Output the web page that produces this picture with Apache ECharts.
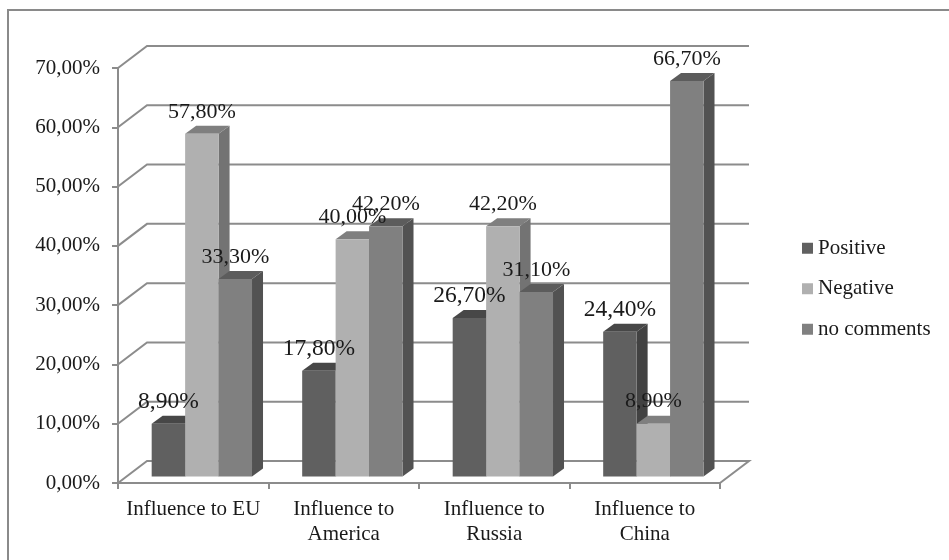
<!DOCTYPE html>
<html>
<head>
<meta charset="utf-8">
<style>
  html, body { margin: 0; padding: 0; background: #fff; overflow: hidden; }
  #chart { position: absolute; left: 0; top: 0; width: 949px; height: 560px; }
  #frame { position: absolute; left: 7px; top: 9px; width: 960px; height: 570px; border: 2px solid #8a8a8a; box-sizing: border-box; pointer-events: none; }
</style>
</head>
<body>
<div id="chart"></div>
<div id="frame"></div>
<script src="https://cdn.jsdelivr.net/npm/echarts@6/dist/echarts.min.js"></script>
<script>
const categories = ['Influence to EU', 'Influence to\nAmerica', 'Influence to\nRussia', 'Influence to\nChina'];
const positive = [8.9, 17.8, 26.7, 24.4];
const negative = [57.8, 40.0, 42.2, 8.9];
const noComments = [33.3, 42.2, 31.1, 66.7];
const valueTicks = [0, 10, 20, 30, 40, 50, 60, 70];

const FONT = '"Liberation Serif", "Times New Roman", serif';
const TEXT = '#1a1a1a';
const LINE = '#8c8c8c';

// Oblique projection of the pseudo-3D box
const WALL_DX = 29, WALL_DY = -22;     // front plane to back wall
const PLANE_DX = 8.6, PLANE_DY = -6.6; // front plane to front face of bars
const BAR_DX = 11, BAR_DY = -8;        // bar depth

const comma = v => v.toFixed(2).replace('.', ',') + '%';

// Back wall grid lines with their slanted returns, plus the floor edge
function renderWall(params, api) {
  const v = api.value(0);
  const band = api.size([1, 0])[0];
  const left = api.coord([0, v])[0] - band / 2;
  const y = api.coord([0, v])[1];
  const right = left + band * categories.length;
  const pts = [[left, y], [left + WALL_DX, y + WALL_DY], [right + WALL_DX, y + WALL_DY]];
  if (v === 0) pts.push([right, y]);
  return {
    type: 'polyline',
    shape: { points: pts },
    style: { fill: null, stroke: LINE, lineWidth: 2 },
    silent: true
  };
}

function barRenderer(slot, front, side, top, labelSize) {
  return function (params, api) {
    const cat = api.value(0);
    const val = api.value(1);
    const band = api.size([1, 0])[0];
    const w = band / 4.5;
    const base = api.coord([cat, 0]);
    const peak = api.coord([cat, val]);
    const x0 = base[0] + PLANE_DX + (slot - 1.5) * w;
    const x1 = x0 + w;
    const yB = base[1] + PLANE_DY;
    const yT = peak[1] + PLANE_DY;
    const poly = (points, fill) => ({
      type: 'polygon', shape: { points }, style: { fill, stroke: null }, z2: slot
    });
    return {
      type: 'group',
      children: [
        poly([[x1, yT], [x1 + BAR_DX, yT + BAR_DY], [x1 + BAR_DX, yB + BAR_DY], [x1, yB]], side),
        poly([[x0, yT], [x0 + BAR_DX, yT + BAR_DY], [x1 + BAR_DX, yT + BAR_DY], [x1, yT]], top),
        poly([[x0, yT], [x1, yT], [x1, yB], [x0, yB]], front),
        {
          type: 'text',
          z2: 100,
          style: {
            x: (x0 + x1) / 2,
            y: yT - 22,
            text: comma(val),
            fill: TEXT,
            font: labelSize + 'px ' + FONT,
            align: 'center',
            verticalAlign: 'middle'
          }
        }
      ]
    };
  };
}

function barSeries(name, values, slot, front, side, top, labelSize) {
  return {
    name,
    type: 'custom',
    renderItem: barRenderer(slot, front, side, top, labelSize),
    data: values.map((v, i) => [i, v]),
    encode: { x: 0, y: 1 },
    itemStyle: { color: front },
    z: 3
  };
}

const chart = echarts.init(document.getElementById('chart'), null, { renderer: 'canvas' });
chart.setOption({
  animation: false,
  backgroundColor: '#fff',
  grid: { left: 118, top: 68, width: 602, height: 415, containLabel: false },
  legend: {
    orient: 'vertical',
    left: 797,
    top: 231,
    data: ['Positive', 'Negative', 'no comments'],
    icon: 'rect',
    itemWidth: 11,
    itemHeight: 11,
    itemGap: 16,
    textStyle: { fontFamily: FONT, fontSize: 21, color: TEXT, padding: [0, 0, 0, 0], lineHeight: 24.5 }
  },
  xAxis: {
    type: 'category',
    data: categories,
    axisLine: { lineStyle: { color: LINE, width: 2 } },
    axisTick: { show: true, length: 6, alignWithLabel: false, lineStyle: { color: LINE, width: 2 } },
    axisLabel: { fontFamily: FONT, fontSize: 21, color: TEXT, margin: 14, lineHeight: 25, interval: 0, align: 'center' },
    splitLine: { show: false }
  },
  yAxis: {
    type: 'value',
    min: 0,
    max: 70,
    interval: 10,
    axisLine: { show: true, lineStyle: { color: LINE, width: 2 } },
    axisTick: { show: true, length: 6, lineStyle: { color: LINE, width: 2 } },
    axisLabel: { fontFamily: FONT, fontSize: 21, color: TEXT, margin: 18, formatter: v => comma(v) },
    splitLine: { show: false }
  },
  series: [
    {
      name: 'wall',
      type: 'custom',
      renderItem: renderWall,
      data: valueTicks.map(v => [v]),
      encode: { y: 0 },
      silent: true,
      z: 1
    },
    barSeries('Positive', positive, 0, '#606060', '#424242', '#474747', 23.5),
    barSeries('Negative', negative, 1, '#b0b0b0', '#737373', '#7f7f7f', 22),
    barSeries('no comments', noComments, 2, '#808080', '#525252', '#5c5c5c', 22)
  ]
});
</script>
</body>
</html>
